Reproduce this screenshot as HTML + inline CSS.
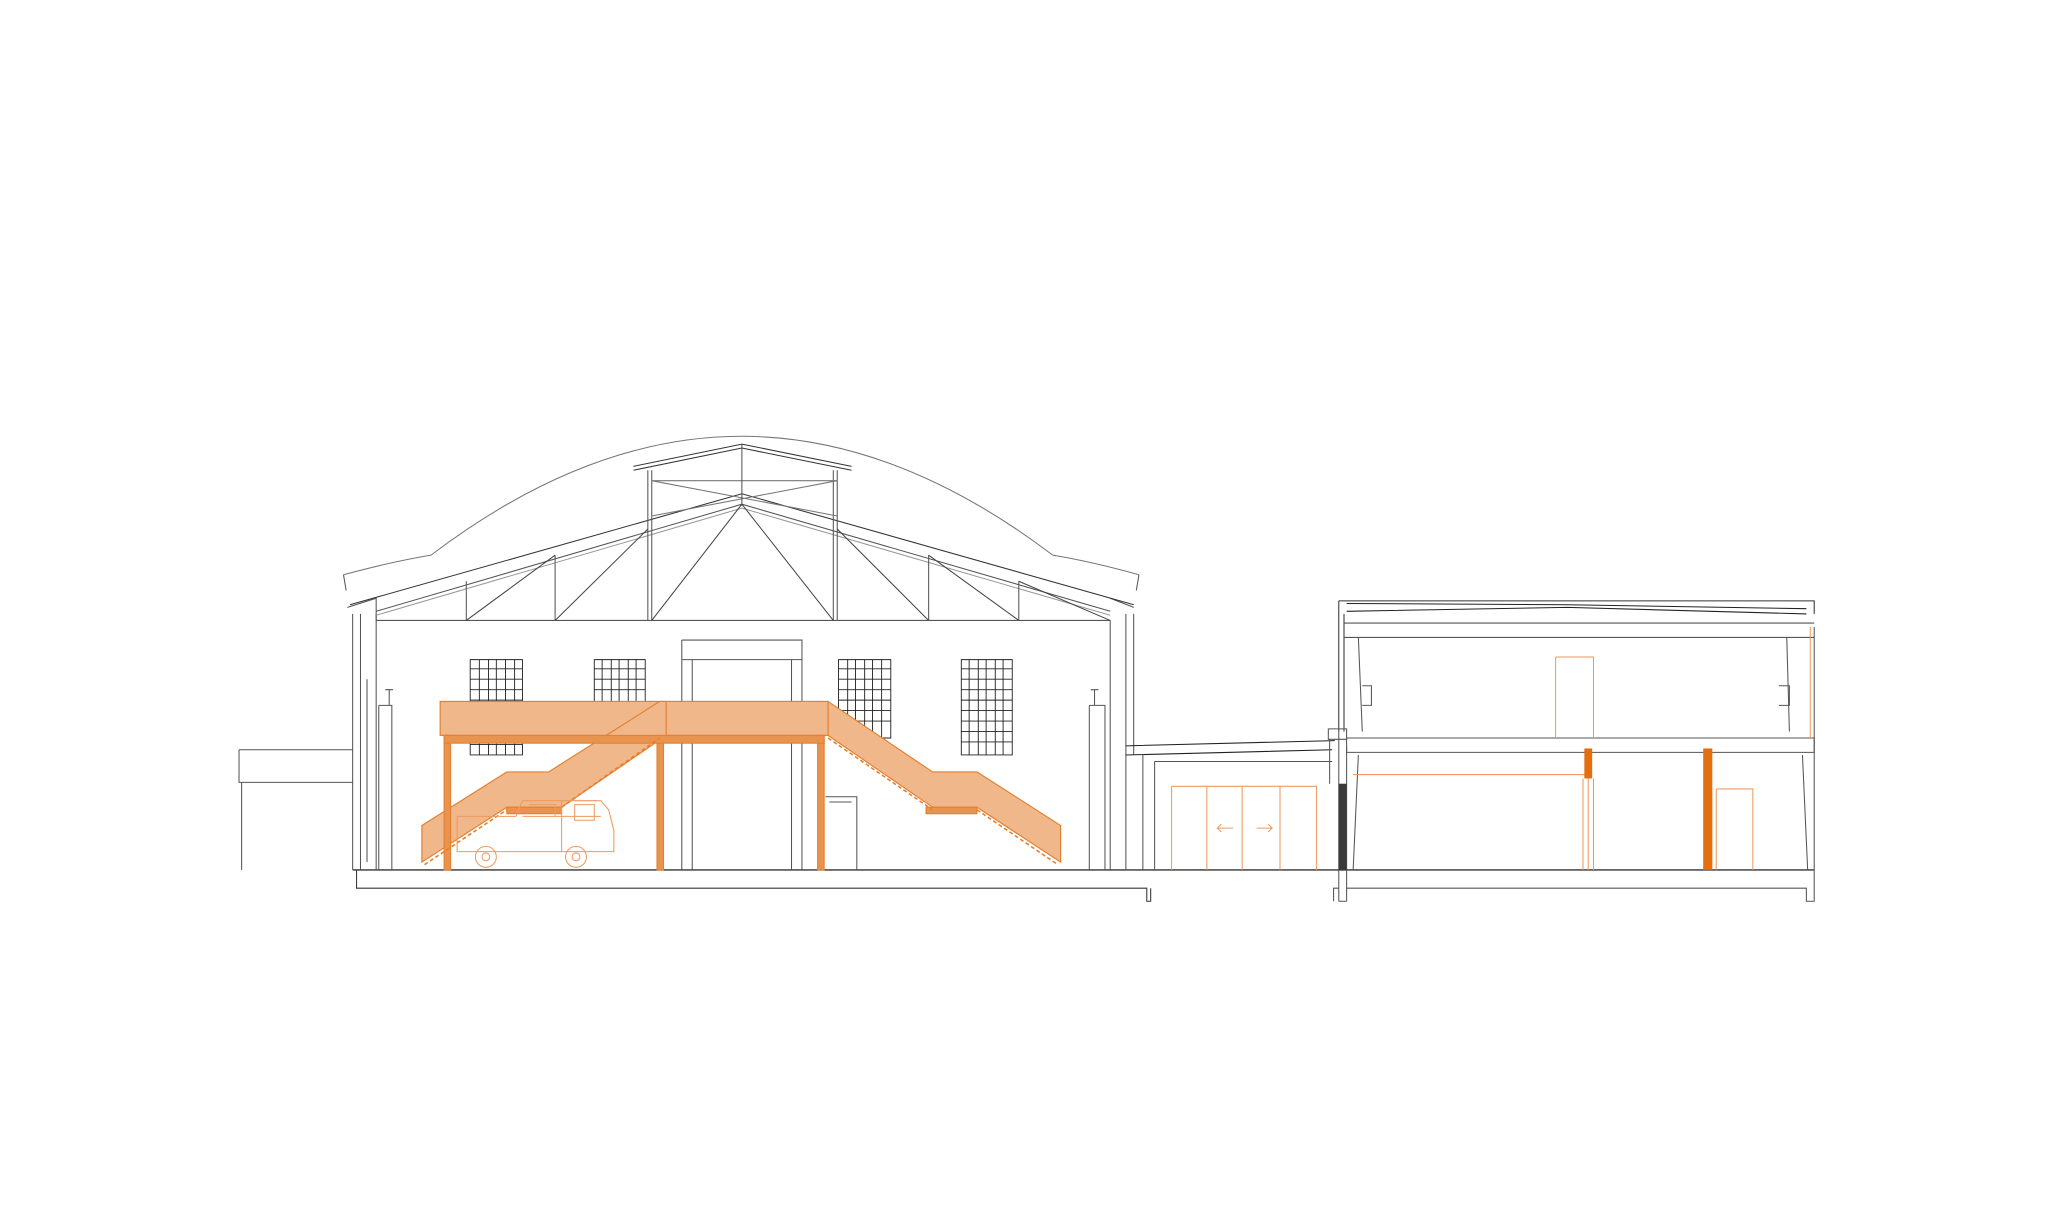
<!DOCTYPE html>
<html><head><meta charset="utf-8"><style>html,body{margin:0;padding:0;background:#fff}svg{display:block}</style></head>
<body>
<svg width="2048" height="1220" viewBox="0 0 1568 934" xmlns="http://www.w3.org/2000/svg">
<rect width="1568" height="934" fill="#fff"/>
<g fill="none" stroke="#555" stroke-width="0.8">
<!-- left annex -->
<path d="M183 574 H270 M183 574 V599 H270 M185 599 V666"/>
<!-- main hall ground & base -->
<path d="M270 666 H1389" stroke="#333" stroke-width="1"/>
<path d="M273 666 V680 H878 V690 H881 V680" stroke="#333"/>
<!-- walls -->
<path d="M270 470 V666 M276 470 V666 M288 470 V666 M281 520 V660"/>
<path d="M288 475 H850"/>
<path d="M850 475 V666 M862 470 V666 M868 470 V578"/>
<path d="M266 465 L288 458 L288 475 M868 465 L850 458"/>
<!-- pilasters -->
<path d="M290 540 H300 V666 M290 540 V666 M834 540 H846 V666 M834 540 V666"/>
<path d="M295 528 H301 M298 528 V540 M835 528 H841 M838 528 V540"/>
<!-- roof curve -->
<path d="M263 440 Q300 430 330 425 Q450 334 568 334 Q686 334 806 425 Q836 430 872 440" stroke="#777"/>
<path d="M263 440 L265 452 M872 440 L870 452"/>
<!-- truss chords -->
<path d="M268 463 L568 378 L868 463" stroke="#333"/>
<path d="M288 468 L568 386 L850 468"/>
<path d="M288 471 L568 389 L850 471" stroke="#999"/>
<!-- lantern -->
<path d="M485 357 L568 340 L652 357 M485 360 L568 343 L652 360" stroke="#333"/>
<path d="M496 360 V475 M499 360 V475 M641 360 V475 M638 360 V475"/>
<path d="M499 368 L641 395 M641 368 L499 395 M499 368 H641" stroke="#777"/>
<path d="M568 340 V386"/>
<!-- verticals & diagonals -->
<path d="M357 445 V475 M425 425 V475 M711 425 V475 M780 445 V475"/>
<path d="M357 475 L425 425 M425 475 L496 405 M499 475 L568 386 L638 475 M641 405 L711 475 M711 425 L780 475 M780 445 L850 475" stroke="#444"/>
<!-- door frame -->
<path d="M522 490 H614 V666 M522 490 V666 M522 505 H614 M530 505 V666 M606 505 V666"/>
<path d="M632 610 H656 V666 M635 614 H652"/>
</g>
<!-- windows -->
<g stroke="#222" stroke-width="0.7" fill="none">
<path d="M360 505 H400 V578 H360 Z M455 505 H494 V540 H455 Z M642 505 H682 V565 H642 Z M736 505 H775 V578 H736 Z"/>
<path d="M367 505V578M374 505V578M380 505V578M387 505V578M394 505V578 M360 512H400M360 520H400M360 528H400M360 536H400M360 570H400
M461 505V540M468 505V540M474 505V540M481 505V540M487 505V540 M455 512H494M455 520H494M455 528H494
M649 505V565M655 505V565M662 505V565M668 505V565M675 505V565 M642 512H682M642 520H682M642 528H682M642 536H682M642 544H682M642 552H682
M742 505V578M749 505V578M755 505V578M762 505V578M768 505V578 M736 512H775M736 520H775M736 528H775M736 536H775M736 544H775M736 552H775M736 560H775M736 568H775"/>
</g>
<!-- orange stair/platform -->
<g fill="#f0b88a" stroke="#e57f2e" stroke-width="0.9">
<rect x="337" y="537" width="297" height="26"/>
<path d="M323 632 L388 591 H420 L505 537 H510 V563 L430 618 H388 L323 660 Z"/>
<path d="M634 537 L714 591 H748 L812 632 V660 L748 618 H714 L634 563 Z"/>
</g>
<g fill="#e8944f" stroke="#e57f2e" stroke-width="0.8">
<rect x="340" y="563" width="5" height="103"/><rect x="503" y="563" width="5" height="103"/><rect x="626" y="563" width="5" height="103"/>
<rect x="340" y="563" width="291" height="6"/>
<rect x="388" y="618" width="42" height="5"/>
<rect x="709" y="618" width="39" height="5"/>
</g>
<g stroke="#e57f2e" stroke-width="1.2" fill="none">
<path d="M325 662 L388 620 M430 618 L505 565 M634 565 L714 620 M748 620 L810 662" stroke-dasharray="3 2"/>
</g>
<!-- car -->
<g stroke="#ee9a60" stroke-width="0.8" fill="none">
<path d="M350 652 H470 V636 L466 620 L460 613 H400 L395 625 H350 Z M400 625 H460 M430 613 V652 M440 616 H455 V628 H440Z M405 616 H425 V625"/>
<circle cx="372" cy="656" r="8"/><circle cx="372" cy="656" r="3"/>
<circle cx="441" cy="656" r="8"/><circle cx="441" cy="656" r="3"/>
</g>
<!-- middle building -->
<g fill="none" stroke="#555" stroke-width="0.8">
<path d="M862 571 L1022 567 M862 578 L1020 574" stroke="#222"/>
<path d="M875 578 V666 M884 583 H1020 M884 583 V666"/>
<path d="M1018 566 V600 M1025 560 V690 M1031 572 V690 M1025 690 H1031"/>
<path d="M1031 680 H1383 V690 H1389 V480 M1025 680 H1021 V690"/>
<!-- right building -->
<path d="M1025 460 H1389 V470 M1025 460 V560 M1029 470 V560" stroke="#333"/>
<path d="M1031 462 L1200 463 L1383 466 M1031 468 L1200 465 L1383 470" stroke="#222"/>
<path d="M1029 477 H1389 M1029 488 H1389"/>
<path d="M1017 558 H1031 V566 H1017 Z"/>
<path d="M1031 565 H1389 V576 H1031 Z"/>
<path d="M1040 488 L1043 560 M1368 488 L1370 560 M1040 578 L1036 666 M1380 578 L1384 666"/>
<path d="M1043 525 H1050 V540 H1043 M1362 525 H1370 V540 H1362"/>
</g>
<rect x="1025" y="600" width="6" height="66" fill="#3a3a3a"/>
<g fill="none" stroke="#ee9a60" stroke-width="0.8">
<path d="M897 602 H1008 V666 M897 602 V666 M924 602 V666 M951 602 V666 M980 602 V666"/>
<path d="M932 634 H944 M935 631 L932 634 L935 637 M962 634 H974 M971 631 L974 634 L971 637"/>
<path d="M1191 503 H1220 V565 M1191 503 V565"/>
<path d="M1036 593 H1214 M1212 596 V666 M1216 596 V666 M1220 596 V666"/>
<path d="M1314 604 H1342 V666 M1314 604 V666"/>
<path d="M1386 480 V565"/>
</g>
<rect x="1213" y="573" width="6" height="23" fill="#e36f10"/>
<rect x="1304" y="573" width="7" height="93" fill="#e36f10"/>
</svg>
</body></html>
